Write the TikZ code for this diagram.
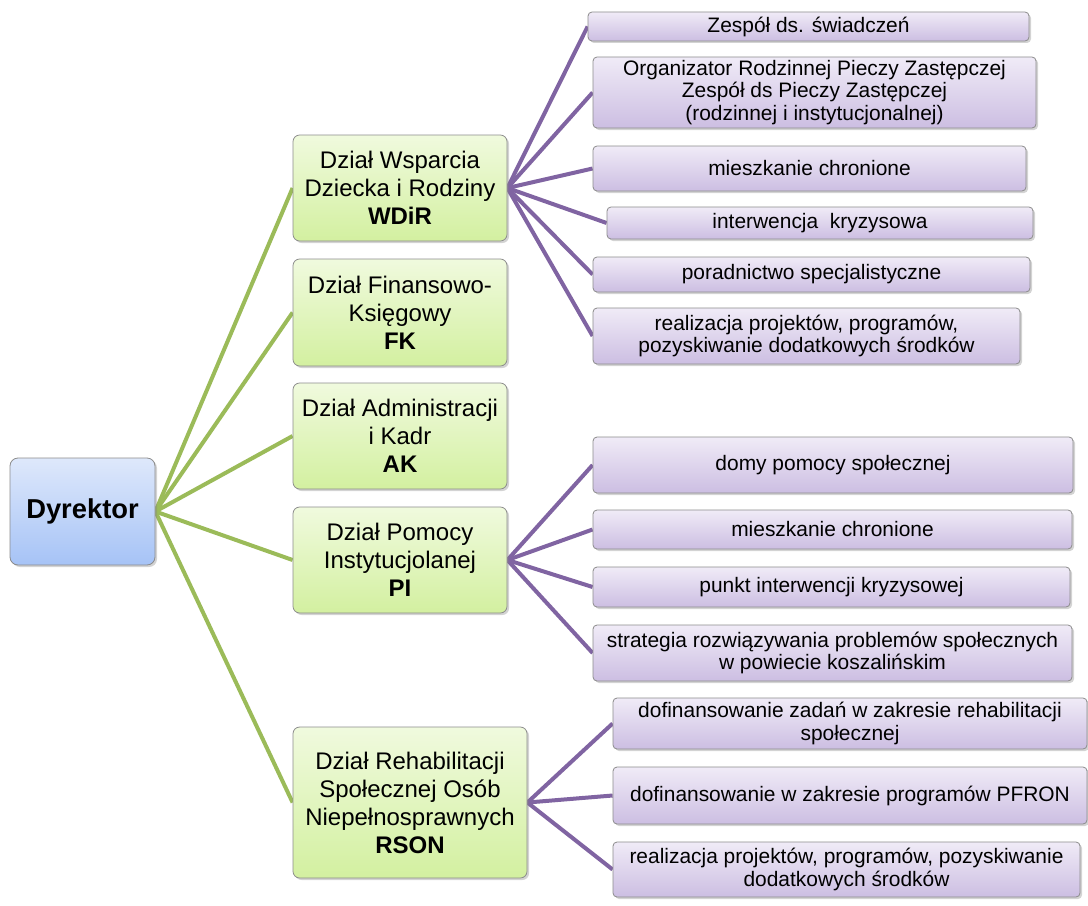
\documentclass[tikz,border=0pt]{standalone}
\usepackage{fontspec}
\setmainfont{Liberation Sans}
\usetikzlibrary{shadows, backgrounds}
\definecolor{mygreen}{RGB}{155,187,89}
\definecolor{mypurple}{RGB}{128,100,162}
\definecolor{bluetop}{RGB}{222,232,251}
\definecolor{bluebot}{RGB}{166,195,246}
\definecolor{greentop}{RGB}{240,250,222}
\definecolor{greenbot}{RGB}{211,240,160}
\definecolor{purptop}{RGB}{240,235,247}
\definecolor{purpbot}{RGB}{204,190,226}

\tikzset{
  box/.style={draw=black!45, line width=0.6pt, align=center, inner sep=1pt,
    drop shadow={shadow xshift=1.5pt, shadow yshift=-1.5pt, opacity=0.35}},
  wh/.style 2 args={minimum width=#1*0.75pt, minimum height=#2*0.75pt},
  glowny/.style={box, rounded corners=6pt, top color=bluetop, bottom color=bluebot,
    font=\fontsize{20.5}{24}\selectfont\bfseries},
  dzial/.style={box, rounded corners=5pt, top color=greentop, bottom color=greenbot,
    font=\fontsize{18}{21}\selectfont},
  zespol/.style={box, rounded corners=3pt, top color=purptop, bottom color=purpbot,
    font=\fontsize{15.7}{17}\selectfont},
  galaz/.style={line width=3pt, color=mygreen},
  odnoga/.style={line width=3pt, color=mypurple},
}

\begin{document}
\begin{tikzpicture}[x=0.75pt, y=-0.75pt]
\useasboundingbox (0,0) rectangle (1088,906);

% dyrektor i dzialy
\node[glowny, wh={145}{107}] (dyr) at (82.5,511.5) {Dyrektor};
\node[dzial, wh={214}{106}] (wdir) at (400,188) {Dział Wsparcia\\Dziecka i Rodziny\\\textbf{WDiR}};
\node[dzial, wh={214}{107}] (fk) at (400,312.5) {Dział Finansowo-\\Księgowy\\\textbf{FK}};
\node[dzial, wh={214}{106}] (ak) at (400,436) {Dział Administracji\\i Kadr\\\textbf{AK}};
\node[dzial, wh={214}{106}] (pi) at (400,560) {Dział Pomocy\\Instytucjolanej\\\textbf{PI}};
\node[dzial, wh={234}{151}] (rson) at (410,802.5) {Dział Rehabilitacji\\Społecznej Osób\\Niepełnosprawnych\\\textbf{RSON}};

% zespoly WDiR
\node[zespol, wh={441}{29}] (wd1) at (808.5,26.5) {Zespół ds. świadczeń};
\node[zespol, wh={443}{71}] (wd2) at (814.5,92.5) {Organizator Rodzinnej Pieczy Zastępczej\\Zespół ds Pieczy Zastępczej\\(rodzinnej i instytucjonalnej)};
\node[zespol, wh={433}{45}] (wd3) at (809.5,168.5) {mieszkanie chronione};
\node[zespol, wh={426}{32}] (wd4) at (820,223) {interwencja\ \ kryzysowa};
\node[zespol, wh={437}{35}] (wd5) at (811.5,274.5) {poradnictwo specjalistyczne};
\node[zespol, wh={427}{56}] (wd6) at (806.5,336) {realizacja projektów, programów,\\pozyskiwanie dodatkowych środków};

% zespoly PI
\node[zespol, wh={480}{56}] (pi1) at (833,465) {domy pomocy społecznej};
\node[zespol, wh={479}{39}] (pi2) at (832.5,529.5) {mieszkanie chronione};
\node[zespol, wh={477}{40}] (pi3) at (831.5,587) {punkt interwencji kryzysowej};
\node[zespol, wh={479}{56}] (pi4) at (832.5,653) {strategia rozwiązywania problemów społecznych\\w powiecie koszalińskim};

% zespoly RSON
\node[zespol, wh={474}{51}] (rs1) at (850,723.5) {dofinansowanie zadań w zakresie rehabilitacji\\społecznej};
\node[zespol, wh={474}{57}] (rs2) at (850,795.5) {dofinansowanie w zakresie programów PFRON};
\node[zespol, wh={467}{55}] (rs3) at (846.5,869.5) {realizacja projektów, programów, pozyskiwanie\\dodatkowych środków};

\begin{scope}[on background layer]
\foreach \d in {wdir,fk,ak,pi,rson}
  \draw[galaz] (dyr.east) -- (\d.west);
\foreach \z in {wd1,wd2,wd3,wd4,wd5,wd6}
  \draw[odnoga] (wdir.east) -- (\z.west);
\foreach \z in {pi1,pi2,pi3,pi4}
  \draw[odnoga] (pi.east) -- (\z.west);
\foreach \z in {rs1,rs2,rs3}
  \draw[odnoga] (rson.east) -- (\z.west);
\end{scope}
\end{tikzpicture}
\end{document}
